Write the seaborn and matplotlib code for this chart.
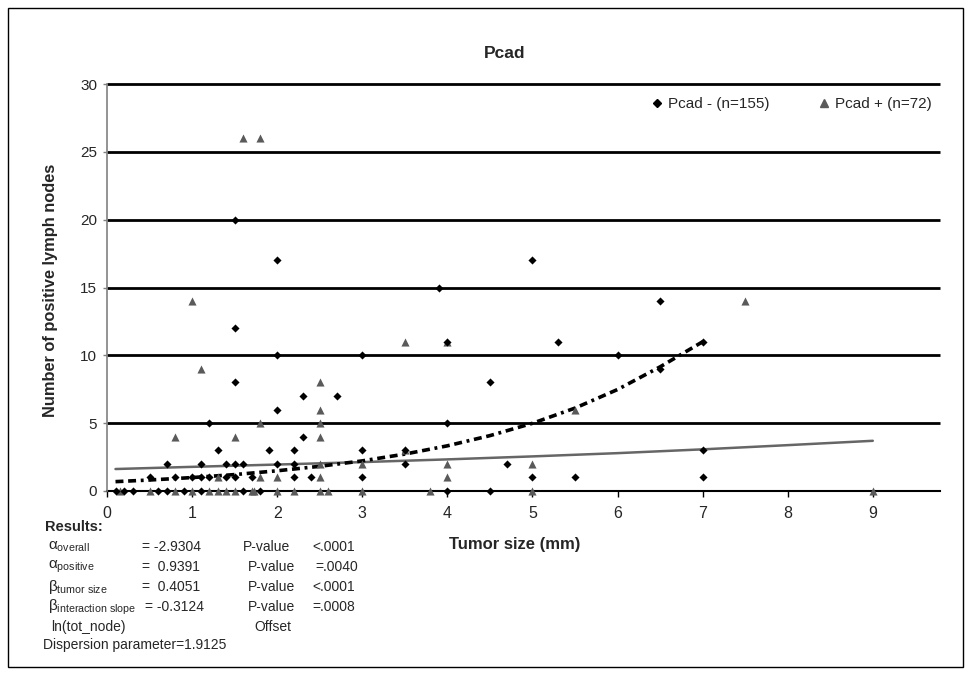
import matplotlib
matplotlib.use("Agg")
import matplotlib.pyplot as plt
import seaborn as sns
import pandas as pd
from matplotlib.lines import Line2D
from matplotlib.patches import Rectangle

# ---------------- data ----------------
neg_x = [0.1, 0.2, 0.3, 0.6, 0.7, 0.9, 1.1, 1.6, 1.8, 4.0, 4.5,
         0.5, 0.8, 1.0, 1.1, 1.2, 1.4, 1.5, 1.7, 2.2, 2.4, 3.0, 5.0, 5.5, 7.0,
         0.7, 1.1, 1.4, 1.5, 1.6, 2.0, 2.2, 3.5, 4.7,
         1.3, 1.9, 2.2, 3.0, 3.5, 7.0,
         2.3,
         1.2, 4.0,
         2.0,
         2.3, 2.7,
         1.5, 4.5,
         6.5,
         2.0, 3.0, 6.0,
         5.3, 7.0, 4.0,
         1.5,
         6.5,
         3.9,
         2.0, 5.0,
         1.5]
neg_y = [0, 0, 0, 0, 0, 0, 0, 0, 0, 0, 0,
         1, 1, 1, 1, 1, 1, 1, 1, 1, 1, 1, 1, 1, 1,
         2, 2, 2, 2, 2, 2, 2, 2, 2,
         3, 3, 3, 3, 3, 3,
         4,
         5, 5,
         6,
         7, 7,
         8, 8,
         9,
         10, 10, 10,
         11, 11, 11,
         12,
         14,
         15,
         17, 17,
         20]

pos_x = [0.15, 0.5, 0.8, 1.0, 1.2, 1.3, 1.4, 1.5, 1.7, 1.73, 2.0, 2.2, 2.5, 2.6, 3.0, 3.8, 5.0, 9.0,
         1.3, 1.8, 2.0, 2.5, 4.0,
         2.5, 3.0, 4.0, 5.0,
         3.5,
         0.8, 1.5, 2.5,
         1.8, 2.5,
         2.5, 5.5,
         2.5,
         1.1,
         3.5, 4.0,
         1.0, 7.5,
         1.6, 1.8]
pos_y = [0] * 18 + [1] * 5 + [2] * 4 + [3] + [4] * 3 + [5] * 2 + [6] * 2 + [8] + [9] + [11] * 2 + [14] * 2 + [26] * 2

# fitted curves
solid_x = [0.1, 1, 2, 3, 4, 5, 6, 7, 8, 9]
solid_y = [1.62, 1.78, 1.95, 2.13, 2.33, 2.55, 2.79, 3.07, 3.38, 3.70]

dash_x = [0.1, 0.5, 1.0, 1.5, 2.0, 2.5, 3.0, 3.5, 4.0, 4.5, 5.0, 5.5, 6.0, 6.5, 7.0]
dash_y = [0.69, 0.81, 0.99, 1.21, 1.49, 1.82, 2.22, 2.72, 3.33, 4.08, 4.99, 6.11, 7.48, 9.15, 11.0]

y_ticks = [0, 5, 10, 15, 20, 25, 30]
x_ticks = [0, 1, 2, 3, 4, 5, 6, 7, 8, 9]

legend_labels = ["Pcad - (n=155)", "Pcad + (n=72)"]

# ---------------- style ----------------
sns.set_theme(style="white")
plt.rcParams["font.family"] = ["Liberation Sans", "DejaVu Sans"]
plt.rcParams["mathtext.fontset"] = "custom"
plt.rcParams["mathtext.rm"] = "Liberation Sans"
plt.rcParams["mathtext.it"] = "Liberation Sans:italic"
plt.rcParams["mathtext.bf"] = "Liberation Sans:bold"

W, H = 971, 680
fig = plt.figure(figsize=(W / 100, H / 100), dpi=100)
ax = fig.add_axes([107 / W, 1 - 491 / H, (940 - 107) / W, (491 - 84) / H])

def fx(px):
    return px / W

def fy(py):
    return 1 - py / H

neg_df = pd.DataFrame({"size": neg_x, "nodes": neg_y})
pos_df = pd.DataFrame({"size": pos_x, "nodes": pos_y})
solid_df = pd.DataFrame({"size": solid_x, "nodes": solid_y})
dash_df = pd.DataFrame({"size": dash_x, "nodes": dash_y})

# gridlines
ax.hlines([t for t in y_ticks if t > 0], 0, 9.79, colors="black", linewidth=2.0,
          zorder=1, clip_on=False)

sns.lineplot(data=solid_df, x="size", y="nodes", ax=ax, color="#666666",
             linewidth=1.8, zorder=3)
sns.lineplot(data=dash_df, x="size", y="nodes", ax=ax, color="black",
             linewidth=2.6, linestyle=(0, (2.2, 1.3, 2.2, 1.3, 0.8, 1.3)), zorder=3)

sns.scatterplot(data=pos_df, x="size", y="nodes", ax=ax, marker="^", s=34,
                color="#5a5a5a", linewidth=0, zorder=4, clip_on=False)
sns.scatterplot(data=neg_df, x="size", y="nodes", ax=ax, marker="D", s=17,
                color="black", linewidth=0, zorder=5, clip_on=False)

ax.set_xlim(0, 9.79)
ax.set_ylim(0, 30)
ax.set_xticks(x_ticks)
ax.set_yticks(y_ticks)
ax.set_xticklabels([str(t) for t in x_ticks], fontsize=11.5)
ax.set_yticklabels([str(t) for t in y_ticks], fontsize=11)
ax.tick_params(axis="x", direction="out", length=4, width=1, color="black", pad=7, bottom=True)
ax.tick_params(axis="y", direction="out", length=3, width=1, color="#808080", pad=4, left=True)
ax.set_xlabel("")
ax.set_ylabel("")

for s in ["top", "right"]:
    ax.spines[s].set_visible(False)
ax.spines["left"].set_color("#808080")
ax.spines["left"].set_linewidth(1.2)
ax.spines["bottom"].set_color("black")
ax.spines["bottom"].set_linewidth(1.5)
ax.spines["bottom"].set_zorder(2)

# legend
handles = [Line2D([], [], marker="D", color="black", ls="", ms=3.8),
           Line2D([], [], marker="^", color="#5a5a5a", ls="", ms=5.2)]
ax.legend(handles, legend_labels, ncol=2, frameon=False, fontsize=11,
          loc="center", bbox_to_anchor=(fx(792), fy(104)), bbox_transform=fig.transFigure,
          handlelength=0.6, handletextpad=0.4, columnspacing=3.3, borderpad=0)

# titles / labels
fig.text(fx(505), fy(53), "Pcad", fontsize=12.5, fontweight="bold", ha="center", va="center")
fig.text(fx(50), fy(290), "Number of positive lymph nodes", fontsize=11.8, fontweight="bold",
         rotation=90, ha="center", va="center")
fig.text(fx(515), fy(545), "Tumor size (mm)", fontsize=12, fontweight="bold",
         ha="center", va="center")

# results block
fs = 10
fig.text(fx(45), fy(527), "Results:", fontsize=10.5, fontweight="bold", ha="left", va="center")
rows = [
    (547, r"$\mathrm{α}_{\mathrm{overall}}$", 142, "= -2.9304", 243, "P-value", 312, "<.0001"),
    (567, r"$\mathrm{α}_{\mathrm{positive}}$", 142, "=  0.9391", 248, "P-value", 315, "=.0040"),
    (587, r"$\mathrm{β}_{\mathrm{tumor\ size}}$", 142, "=  0.4051", 248, "P-value", 312, "<.0001"),
    (607, r"$\mathrm{β}_{\mathrm{interaction\ slope}}$", 145, "= -0.3124", 248, "P-value", 312, "=.0008"),
]
for y, lab, x1, v1, x2, v2, x3, v3 in rows:
    fig.text(fx(48), fy(y), lab, fontsize=11, ha="left", va="center")
    fig.text(fx(x1), fy(y), v1, fontsize=fs, ha="left", va="center")
    fig.text(fx(x2), fy(y), v2, fontsize=fs, ha="left", va="center")
    fig.text(fx(x3), fy(y), v3, fontsize=fs, ha="left", va="center")
fig.text(fx(51), fy(627), "ln(tot_node)", fontsize=fs, ha="left", va="center")
fig.text(fx(254), fy(627), "Offset", fontsize=fs, ha="left", va="center")
fig.text(fx(43), fy(645), "Dispersion parameter=1.9125", fontsize=fs, ha="left", va="center")

# outer border
fig.patches.append(Rectangle((fx(8), fy(667)), fx(963) - fx(8), fy(8) - fy(667),
                             transform=fig.transFigure, fill=False, edgecolor="black",
                             linewidth=1.0))

fig.savefig("out.png", dpi=100)
